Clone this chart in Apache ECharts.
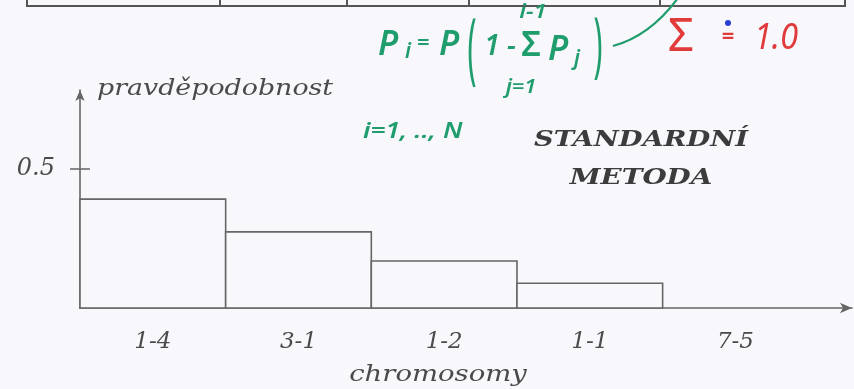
<!DOCTYPE html>
<html>
<head>
<meta charset="utf-8">
<script src="https://cdn.jsdelivr.net/npm/echarts@6/dist/echarts.min.js"></script>
<style>
  html, body { margin: 0; padding: 0; background: #f8f7fb; }
  #chart { width: 854px; height: 389px; }
</style>
</head>
<body>
<div id="chart"></div>
<script>
// chromosome pairs on the horizontal axis
const categories = ['1-4', '3-1', '1-2', '1-1', '7-5'];
// selection probability of each pair
const probabilities = [0.392, 0.274, 0.169, 0.089, 0];
// the single labelled tick on the probability axis
const yTickValues = [0.5];

const ink = '#4a4a4a';
const lineColor = '#666666';
const green = '#1f9d6d';
const red = '#e03a3a';
const serif = '"DejaVu Serif"';
const hand = '"Noto Sans"';

const chart = echarts.init(document.getElementById('chart'), null, { renderer: 'canvas' });

const barData = categories.map((c, i) => [i, probabilities[i]]);

// helper for free-floating text pieces
function txt(text, x, y, opts) {
  opts = opts || {};
  return {
    type: 'text',
    x: x, y: y,
    scaleX: opts.sx || 1,
    scaleY: opts.sy || 1,
    silent: true,
    style: {
      text: text,
      font: opts.font,
      fill: opts.fill || ink,
      align: opts.align || 'center',
      verticalAlign: opts.va || 'middle'
    }
  };
}

const handFont = (size, weight) => 'italic ' + (weight || '600') + ' ' + size + 'px ' + hand;

chart.setOption({
  backgroundColor: '#f8f7fb',
  animation: false,
  grid: { left: 80, right: 2, top: 90, bottom: 81, containLabel: false },
  xAxis: {
    type: 'value',
    min: 0,
    max: 5.3,
    interval: 0.5,
    splitLine: { show: false },
    axisTick: { show: false },
    axisLine: {
      lineStyle: { color: lineColor, width: 1.6 },
      symbol: ['none', 'arrow'],
      symbolSize: [8, 12]
    },
    axisLabel: {
      margin: 23,
      showMaxLabel: false,
      showMinLabel: false,
      color: ink,
      fontFamily: 'DejaVu Serif',
      fontStyle: 'italic',
      fontSize: 23,
      formatter: function (v) {
        const k = Math.floor(v);
        return Math.abs(v - k - 0.5) < 1e-6 && categories[k] ? categories[k] : '';
      }
    }
  },
  yAxis: [{
    type: 'value',
    min: 0,
    max: 0.785,
    interval: 0.5,
    splitLine: { show: false },
    axisLine: {
      show: true,
      lineStyle: { color: lineColor, width: 1.6 },
      symbol: ['none', 'arrow'],
      symbolSize: [7, 11]
    },
    axisTick: {
      show: true, length: 10, customValues: yTickValues,
      lineStyle: { color: lineColor, width: 1.5 }
    },
    axisLabel: {
      margin: 25,
      customValues: yTickValues,
      color: ink,
      fontFamily: 'DejaVu Serif',
      fontStyle: 'italic',
      fontSize: 24,
      formatter: function (v) { return yTickValues.indexOf(v) >= 0 ? v.toFixed(1) : ''; }
    }
  }, {
    type: 'value',
    position: 'left',
    min: 0,
    max: 0.785,
    interval: 0.5,
    splitLine: { show: false },
    axisLine: { show: false },
    axisLabel: { show: false },
    axisTick: {
      show: true, inside: true, length: 10, customValues: yTickValues,
      lineStyle: { color: lineColor, width: 1.5 }
    }
  }],
  series: [{
    type: 'custom',
    data: barData,
    renderItem: function (params, api) {
      const i = api.value(0);
      const v = api.value(1);
      if (!v) return null;
      const topLeft = api.coord([i, v]);
      const bottomRight = api.coord([i + 1, 0]);
      return {
        type: 'rect',
        shape: {
          x: topLeft[0],
          y: topLeft[1],
          width: bottomRight[0] - topLeft[0],
          height: bottomRight[1] - topLeft[1]
        },
        style: { fill: '#f8f7fb', stroke: lineColor, lineWidth: 1.6 }
      };
    }
  }],
  graphic: [
    // table border running off the top edge
    { type: 'polyline', silent: true, shape: { points: [[27, -2], [27, 6], [845, 6], [845, -2]] },
      style: { stroke: '#555', lineWidth: 2, fill: null } },
    { type: 'line', silent: true, shape: { x1: 220, y1: -2, x2: 220, y2: 6 }, style: { stroke: '#555', lineWidth: 2 } },
    { type: 'line', silent: true, shape: { x1: 347, y1: -2, x2: 347, y2: 6 }, style: { stroke: '#555', lineWidth: 2 } },
    { type: 'line', silent: true, shape: { x1: 469, y1: -2, x2: 469, y2: 6 }, style: { stroke: '#555', lineWidth: 2 } },
    { type: 'line', silent: true, shape: { x1: 660, y1: -2, x2: 660, y2: 6 }, style: { stroke: '#555', lineWidth: 2 } },

    // axis names
    txt('pravděpodobnost', 97, 89, { font: 'italic 22px ' + serif, align: 'left', sx: 1.22 }),
    txt('chromosomy', 438, 375, { font: 'italic 22px ' + serif, sx: 1.25 }),

    // method title
    txt('STANDARDNÍ', 641, 140, { font: 'italic bold 23px ' + serif, fill: '#3c3c3c', sx: 1.19 }),
    txt('METODA', 641, 178, { font: 'italic bold 23px ' + serif, fill: '#3c3c3c', sx: 1.21 }),

    // formula  P_i = P(1 - sum_{j=1}^{i-1} P_j)
    txt('P', 388, 45, { font: handFont(34), fill: green }),
    txt('i', 408, 52, { font: handFont(21), fill: green }),
    txt('=', 423, 44, { font: handFont(22), fill: green }),
    txt('P', 449, 45, { font: handFont(34), fill: green }),
    txt('(', 472, 53, { font: '30px ' + hand, fill: green, sy: 2.6 }),
    txt('1 -', 500, 47, { font: handFont(28), fill: green }),
    txt('Σ', 531, 46, { font: '600 34px ' + hand, fill: green }),
    txt('i-1', 533, 13, { font: handFont(19), fill: green, sx: 1.25 }),
    txt('j=1', 521, 88, { font: handFont(19), fill: green, sx: 1.15 }),
    txt('P', 558, 50, { font: handFont(34), fill: green }),
    txt('j', 577, 59, { font: handFont(21), fill: green }),
    txt(')', 598, 48, { font: '30px ' + hand, fill: green, sy: 2.4 }),
    { type: 'bezierCurve', silent: true,
      shape: { x1: 613, y1: 46, x2: 678, y2: -2, cpx1: 650, cpy1: 36 },
      style: { stroke: green, lineWidth: 2.2, fill: null } },
    txt('i=1, .., N', 363, 132, { font: handFont(22), fill: green, align: 'left', sx: 1.2 }),

    // sum check
    txt('Σ', 681, 38, { font: '46px ' + hand, fill: red }),
    txt('=', 728, 37, { font: 'bold 22px ' + hand, fill: red }),
    { type: 'circle', silent: true, shape: { cx: 728, cy: 23, r: 3 }, style: { fill: '#2a40d0' } },
    txt('1.0', 776, 39, { font: handFont(36, 'normal'), fill: red, sx: 0.9 })
  ]
});
</script>
</body>
</html>
